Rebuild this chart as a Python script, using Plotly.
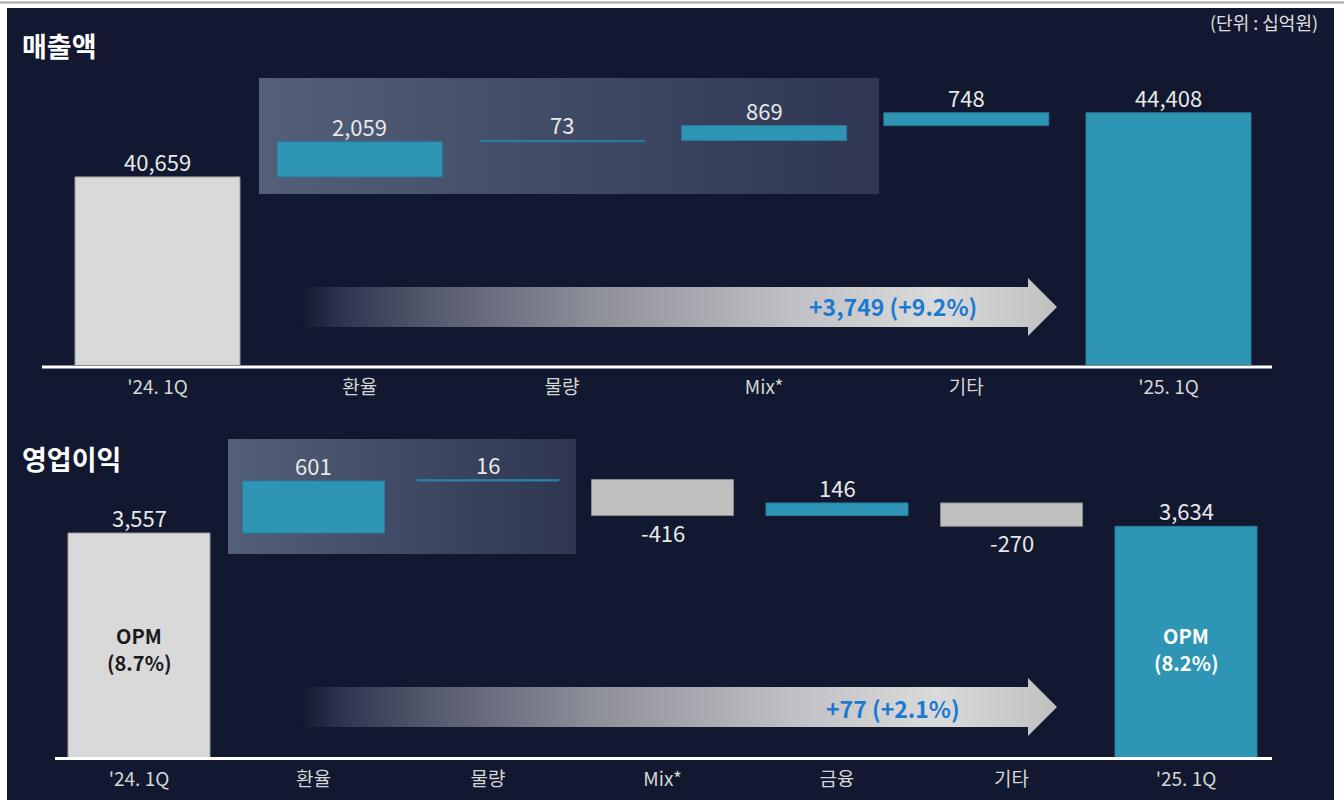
import plotly.graph_objects as go

# ---------------- data ----------------
sales_categories = ["'24. 1Q", "환율", "물량", "Mix*", "기타", "'25. 1Q"]
sales_start = 40659
sales_deltas = [2059, 73, 869, 748]
sales_end = 44408
sales_change_label = "+3,749 (+9.2%)"

op_categories = ["'24. 1Q", "환율", "물량", "Mix*", "금융", "기타", "'25. 1Q"]
op_start = 3557
op_deltas = [601, 16, -416, 146, -270]
op_end = 3634
op_change_label = "+77 (+2.1%)"
opm_title = "OPM"
opm_values = ["(8.7%)", "(8.2%)"]

titles = ["매출액", "영업이익"]
unit_label = "(단위 : 십억원)"

# ---------------- style ----------------
W, H = 1344, 800
NAVY = "#111830"
TEAL = "#2e95b5"
TEAL_EDGE = "#2a7c9c"
LIGHT = "#d9d9d9"
LIGHT_EDGE = "#9a9a9a"
NEG = "#c0c0c0"
NEG_EDGE = "#8a8a8a"
LABEL = "#e8e8e8"
TICK = "#d6d6d6"
BLUE = "#1b79d1"
FONT = "Noto Sans CJK KR"


def waterfall(start, deltas, end):
    bases, heights, colors, edges = [0], [start], [LIGHT], [LIGHT_EDGE]
    label_y, anchors, texts = [start], ["bottom"], [f"{start:,}"]
    run = start
    for d in deltas:
        if d >= 0:
            bases.append(run); heights.append(d)
            colors.append(TEAL); edges.append(TEAL_EDGE)
            label_y.append(run + d); anchors.append("bottom")
        else:
            bases.append(run + d); heights.append(-d)
            colors.append(NEG); edges.append(NEG_EDGE)
            label_y.append(run + d); anchors.append("top")
        texts.append(f"{d:,}")
        run += d
    bases.append(0); heights.append(end)
    colors.append(TEAL); edges.append(TEAL_EDGE)
    label_y.append(end); anchors.append("bottom"); texts.append(f"{end:,}")
    return bases, heights, colors, edges, label_y, anchors, texts


fig = go.Figure()

# ---- decoration layer (pixel coordinate axes) ----
def px_poly(xs, ys, stops, x0, x1):
    fig.add_trace(go.Scatter(
        x=xs, y=ys, mode="lines", line=dict(width=0), fill="toself",
        fillgradient=dict(type="horizontal", colorscale=stops, start=x0, stop=x1),
        xaxis="x", yaxis="y", hoverinfo="skip", showlegend=False))

box_stops = [[0, "rgb(84,95,121)"], [0.5, "rgb(64,74,100)"], [1, "rgb(46,54,82)"]]
for (bx0, bx1, by0, by1) in [(259, 879, 78, 194), (228, 576, 439, 554)]:
    px_poly([bx0, bx1, bx1, bx0, bx0], [by0, by0, by1, by1, by0], box_stops, bx0, bx1)

arrow_stops = [[0, "rgb(22,27,50)"], [0.06, "rgb(50,56,80)"], [0.19, "rgb(90,95,114)"],
               [0.39, "rgb(142,144,154)"], [0.65, "rgb(192,192,197)"],
               [0.84, "rgb(218,218,218)"], [1, "rgb(192,192,192)"]]
for cy in [307, 707]:
    ax0, ax1, tip = 303, 1028, 1057
    xs = [ax0, ax1, ax1, tip, ax1, ax1, ax0, ax0]
    ys = [cy - 20, cy - 20, cy - 29, cy, cy + 29, cy + 20, cy + 20, cy - 20]
    px_poly(xs, ys, arrow_stops, ax0, tip)

# ---- waterfall bars ----
charts = [
    dict(cats=sales_categories, start=sales_start, deltas=sales_deltas, end=sales_end,
         xa="x2", ya="y2", width=0.816),
    dict(cats=op_categories, start=op_start, deltas=op_deltas, end=op_end,
         xa="x3", ya="y3", width=0.814),
]
annotations = []
for c in charts:
    bases, heights, colors, edges, label_y, anchors, texts = waterfall(c["start"], c["deltas"], c["end"])
    fig.add_trace(go.Bar(
        x=c["cats"], y=heights, base=bases, width=c["width"],
        marker=dict(color=colors, line=dict(color=edges, width=1)),
        xaxis=c["xa"], yaxis=c["ya"], hoverinfo="skip", showlegend=False))
    for cat, yv, anc, t in zip(c["cats"], label_y, anchors, texts):
        annotations.append(dict(
            x=cat, y=yv, xref=c["xa"], yref=c["ya"], text=t, showarrow=False,
            xanchor="center", yanchor=anc, yshift=-2 if anc == "bottom" else 2,
            font=dict(family=FONT, size=22, color=LABEL)))

# OPM labels inside first/last bars of the lower chart
for cat, val, col in [(op_categories[0], opm_values[0], "#1a1a1a"),
                      (op_categories[-1], opm_values[1], "#ffffff")]:
    for txt, cy in [(opm_title, 635), (val, 662)]:
        annotations.append(dict(x=cat, xref="x3", y=1 - cy / H, yref="paper", text=f"<b>{txt}</b>",
                                xanchor="center", yanchor="middle", showarrow=False,
                                font=dict(family=FONT, size=20, color=col)))

# arrow texts
for txt, cy in [(sales_change_label, 306), (op_change_label, 708)]:
    annotations.append(dict(x=893, y=cy, xref="x", yref="y", text=f"<b>{txt}</b>", showarrow=False,
                            xanchor="center", yanchor="middle",
                            font=dict(family=FONT, size=23, color=BLUE)))

# titles and unit
for t, cy in [(titles[0], 45), (titles[1], 458)]:
    annotations.append(dict(x=20 / W, y=1 - cy / H, xref="paper", yref="paper",
                            xanchor="left", yanchor="middle",
                            text=f"<b>{t}</b>", showarrow=False,
                            font=dict(family=FONT, size=27, color="#ffffff")))
annotations.append(dict(x=1320 / W, y=1 - 22 / H, xref="paper", yref="paper",
                        xanchor="right", yanchor="middle",
                        text=unit_label, showarrow=False,
                        font=dict(family=FONT, size=18, color="#e0e0e0")))

shapes = [
    dict(type="rect", xref="paper", yref="paper", x0=7 / W, x1=1334 / W, y0=0, y1=1 - 8 / H,
         fillcolor=NAVY, line=dict(width=0), layer="below"),
    dict(type="line", xref="paper", yref="paper", x0=0, x1=1, y0=1 - 2.5 / H, y1=1 - 2.5 / H,
         line=dict(color="#a6a6a6", width=2), layer="below"),
    dict(type="line", xref="paper", yref="paper", x0=42 / W, x1=1272 / W,
         y0=1 - 367 / H, y1=1 - 367 / H, line=dict(color="#ffffff", width=3), layer="above"),
    dict(type="line", xref="paper", yref="paper", x0=55 / W, x1=1272 / W,
         y0=1 - 758.5 / H, y1=1 - 758.5 / H, line=dict(color="#ffffff", width=3), layer="above"),
]

hidden = dict(visible=False, fixedrange=True)
cat_axis = dict(showgrid=False, zeroline=False, showline=False, ticks="", fixedrange=True,
                ticklabelstandoff=9,
                tickfont=dict(family=FONT, size=19, color=TICK))
fig.update_layout(
    width=W, height=H, margin=dict(l=0, r=0, t=0, b=0),
    paper_bgcolor="#ffffff", plot_bgcolor="rgba(0,0,0,0)", showlegend=False,
    barmode="overlay",
    xaxis=dict(domain=[0, 1], range=[0, W], **hidden),
    yaxis=dict(domain=[0, 1], range=[H, 0], **hidden),
    xaxis2=dict(domain=[56.4 / W, 1269.6 / W], range=[-0.5, 5.5], anchor="y2", **cat_axis),
    yaxis2=dict(domain=[1 - 365 / H, 1 - 60 / H], range=[29650, 47500], anchor="x2", **hidden),
    xaxis3=dict(domain=[51.75 / W, 1273.25 / W], range=[-0.5, 6.5], anchor="y3", **cat_axis),
    yaxis3=dict(domain=[1 - 757 / H, 1 - 440 / H], range=[970, 4631], anchor="x3", **hidden),
    annotations=annotations, shapes=shapes,
)

fig.write_html("out.html", config={"displayModeBar": False},
               post_script="document.body.style.margin='0';document.body.style.overflow='hidden';")
